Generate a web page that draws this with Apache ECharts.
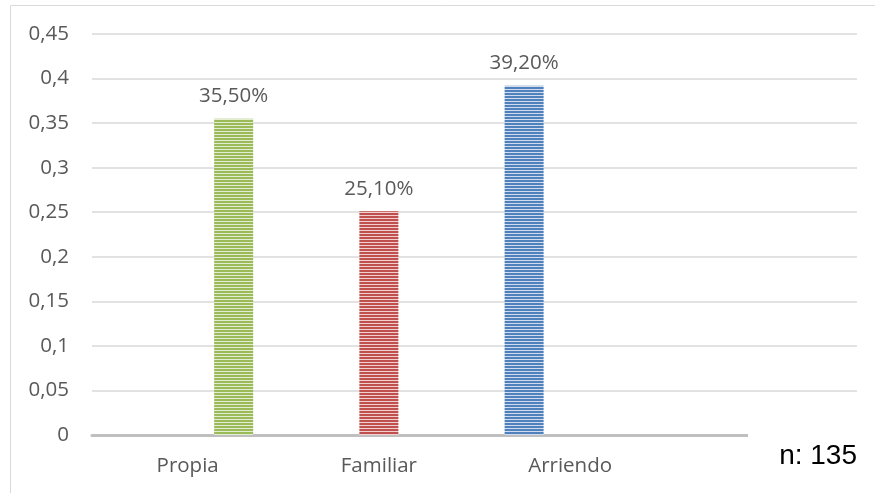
<!DOCTYPE html>
<html>
<head>
<meta charset="utf-8">
<script src="https://cdn.jsdelivr.net/npm/echarts@6/dist/echarts.min.js"></script>
<style>
  html, body { margin: 0; padding: 0; background: #fff; }
  #chart { width: 875px; height: 493px; }
</style>
</head>
<body>
<div id="chart"></div>
<script>
// Tenencia de vivienda (proporción de hogares)
const categories = ['Propia', 'Familiar', 'Arriendo', ''];
const propia   = [0.355, '-', '-', '-'];
const familiar = ['-', 0.251, '-', '-'];
const arriendo = ['-', '-', 0.392, '-'];
const yTicks = [0, 0.05, 0.1, 0.15, 0.2, 0.25, 0.3, 0.35, 0.4, 0.45];
const sampleNote = 'n: 135';

// Narrow horizontal stripe fill
function stripes(color, light) {
  const c = document.createElement('canvas');
  c.width = 4; c.height = 3;
  const g = c.getContext('2d');
  g.fillStyle = color; g.fillRect(0, 0, 4, 2);
  g.fillStyle = light; g.fillRect(0, 2, 4, 1);
  return { image: c, repeat: 'repeat' };
}

const fmtComma = v => parseFloat(v.toFixed(2)).toString().replace('.', ',');
const fmtPct = p => (p.value * 100).toFixed(2).replace('.', ',') + '%';
const textColor = '#595959';
const font = '"Open Sans", sans-serif';

function barSeries(name, data, color, light) {
  return {
    name, type: 'bar', data,
    barWidth: 39, barGap: '18%',
    itemStyle: { color: stripes(color, light) },
    label: {
      show: true, position: 'top', distance: 12,
      formatter: fmtPct, color: textColor, fontSize: 20.5, fontFamily: font
    }
  };
}

const chart = echarts.init(document.getElementById('chart'), null, { renderer: 'canvas' });
chart.setOption({
  animation: false,
  backgroundColor: '#fff',
  grid: { left: 92, right: 18, top: 34, bottom: 58 },
  xAxis: {
    type: 'category', data: categories,
    axisLine: { show: true, lineStyle: { color: '#bfbfbf', width: 3 } },
    axisTick: { show: false },
    axisLabel: { color: textColor, fontSize: 20.5, fontFamily: font, margin: 21 }
  },
  yAxis: {
    type: 'value', min: yTicks[0], max: yTicks[yTicks.length - 1], interval: 0.05,
    axisLine: { show: false }, axisTick: { show: false },
    axisLabel: { color: textColor, fontSize: 20.5, fontFamily: font, margin: 23, formatter: fmtComma },
    splitLine: { lineStyle: { color: '#d9d9d9', width: 1.5 } }
  },
  series: [
    barSeries('Arriendo', arriendo, '#4f81bd', '#d0dcee'),
    barSeries('Familiar', familiar, '#c0504d', '#f0cfce'),
    barSeries('Propia', propia, '#9bbb59', '#e2ecd0')
  ],
  graphic: [
    { type: 'rect', z: 0, silent: true,
      shape: { x: 10.5, y: 5.5, width: 900, height: 600 },
      style: { fill: null, stroke: '#d9d9d9', lineWidth: 1 } },
    { type: 'rect', z: 100, silent: true,
      shape: { x: 748, y: 424, width: 115, height: 50 },
      style: { fill: '#fff' } },
    { type: 'text', z: 101, silent: true, x: 857, y: 456,
      style: { text: sampleNote, fill: '#000', font: '28px "Liberation Sans", Arial, sans-serif',
               align: 'right', verticalAlign: 'middle' } }
  ]
});
</script>
</body>
</html>
